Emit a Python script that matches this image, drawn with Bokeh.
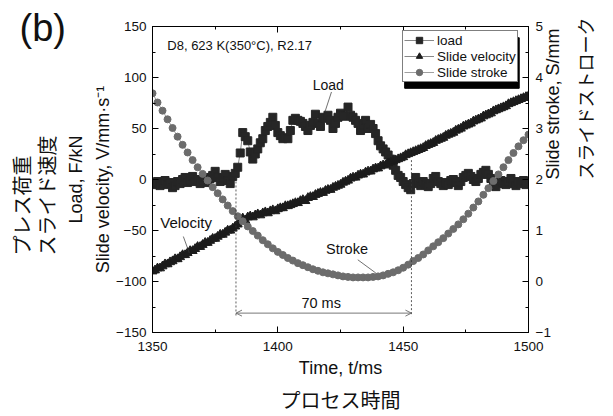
import math
from bokeh.plotting import figure
from bokeh.models import (Range1d, LinearAxis, FixedTicker, Label, Legend,
                          LegendItem, Arrow, OpenHead, Title)
from bokeh.embed import file_html
from bokeh.resources import INLINE

# ---------------- data ----------------
time_ms = list(range(1350, 1501))          # 1 ms sampling
load_kN = [
    -3, -5, -2, -6, -4, -1, -5, -3, -8, -6,
    -2, -4, 0, 2, -3, -1, 3, -2, 0, -4,
    -1, 2, -3, 1, 4, 8, 2, -2, 1, 5,
    -1, -4, 3, 6, 12, 26, 46, 42, 38, 27,
    20, 25, 30, 36, 40, 48, 52, 56, 61, 53,
    46, 43, 40, 41, 40, 48, 58, 60, 58, 57,
    55, 52, 48, 53, 56, 64, 55, 52, 61, 60,
    63, 58, 50, 55, 61, 65, 63, 62, 71, 63,
    61, 58, 55, 48, 53, 58, 50, 54, 50, 45,
    38, 33, 30, 27, 24, 20, 14, 9, 4, 2,
    -2, -5, -8, -10, -4, 2, -3, -6, -2, -5,
    -7, -4, 1, 3, -2, -4, -6, -3, -5, -1,
    0, -3, -6, -2, 2, 4, 6, 3, 0, -2,
    1, 5, 7, 9, 5, 1, -3, -7, -4, -1,
    -3, -5, -2, 1, -4, -6, -2, -4, -1, -5,
    -3]
velocity_mm_s = [
    -90, -89, -87, -87, -85, -83, -83, -81, -80, -78,
    -78, -76, -74, -74, -72, -70, -70, -68, -66, -66,
    -64, -62, -62, -60, -58, -58, -56, -54, -54, -52,
    -50, -50, -48, -46, -44, -40, -38, -40, -37, -36,
    -37, -35, -34, -35, -33, -32, -33, -31, -30, -31,
    -29, -28, -28, -26, -26, -25, -24, -23, -23, -21,
    -20, -21, -18, -17, -17, -15, -14, -13, -13, -11,
    -10, -10, -8, -7, -6, -5, -3, -2, -1, 1,
    2, 2, 4, 5, 5, 7, 8, 8, 10, 11,
    11, 13, 14, 14, 16, 17, 18, 19, 20, 21,
    22, 24, 25, 26, 27, 28, 29, 30, 31, 33,
    34, 35, 36, 38, 39, 40, 41, 43, 44, 45,
    46, 48, 49, 50, 52, 53, 54, 55, 57, 58,
    59, 60, 62, 63, 64, 65, 67, 68, 69, 70,
    71, 72, 74, 75, 76, 77, 78, 79, 80, 81,
    82]
stroke_time_ms = list(range(1350, 1501, 2))   # 2 ms sampling
stroke_mm = [
    3.69, 3.51, 3.35, 3.18, 3.01, 2.84, 2.68, 2.53, 2.38, 2.24,
    2.11, 1.98, 1.85, 1.73, 1.61, 1.49, 1.38, 1.28, 1.18, 1.08,
    0.99, 0.90, 0.81, 0.73, 0.65, 0.58, 0.52, 0.46, 0.41, 0.36,
    0.32, 0.28, 0.24, 0.21, 0.18, 0.16, 0.14, 0.12, 0.10, 0.09,
    0.08, 0.08, 0.08, 0.08, 0.09, 0.10, 0.12, 0.15, 0.18, 0.22,
    0.27, 0.33, 0.40, 0.46, 0.53, 0.61, 0.69, 0.77, 0.85, 0.94,
    1.03, 1.12, 1.22, 1.33, 1.45, 1.57, 1.70, 1.83, 1.97, 2.10,
    2.24, 2.38, 2.52, 2.65, 2.77,
    2.88]

x_ticks = [1350, 1400, 1450, 1500]
x_minor = [1375, 1425, 1475]
left_ticks = [-150, -100, -50, 0, 50, 100, 150]
left_minor = [-125, -75, -25, 25, 75, 125]
right_ticks = [-1, 0, 1, 2, 3, 4, 5]
right_minor = [-0.5, 0.5, 1.5, 2.5, 3.5, 4.5]

press_window_ms = [1383.3, 1453.3]
series_names = ["load", "Slide velocity", "Slide stroke"]

FONT = "Liberation Sans"
JFONT = "Noto Sans CJK JP"
INK = "#111111"

# ---------------- figure ----------------
p = figure(width=613, height=416, x_range=Range1d(1350, 1500),
           y_range=Range1d(-150, 150), output_backend="svg",
           toolbar_location=None, min_border_left=152, min_border_right=80,
           min_border_top=26, min_border_bottom=83)
p.extra_y_ranges = {"stroke": Range1d(-1, 5)}
p.xgrid.visible = False
p.ygrid.visible = False
p.outline_line_color = "black"
p.outline_line_width = 1
p.background_fill_color = "white"
p.border_fill_color = "white"


def style_axis(ax, standoff):
    ax.axis_line_color = "black"
    ax.axis_line_width = 1
    ax.major_tick_line_color = "black"
    ax.minor_tick_line_color = "black"
    ax.major_tick_in = 6
    ax.major_tick_out = 0
    ax.minor_tick_in = 3
    ax.minor_tick_out = 0
    ax.major_label_text_font = FONT
    ax.major_label_text_font_size = "13.5px"
    ax.major_label_text_color = INK
    ax.major_label_standoff = standoff
    ax.axis_label_text_font = FONT
    ax.axis_label_text_font_size = "18px"
    ax.axis_label_text_font_style = "normal"
    ax.axis_label_text_color = INK


def label_axis(text, y_range_name=None, size="20px", standoff=0):
    """An axis without ticks that only carries a (Japanese) title."""
    kw = dict(ticker=FixedTicker(ticks=[]), axis_line_color=None,
              major_tick_line_color=None, minor_tick_line_color=None,
              major_tick_in=0, major_tick_out=0, minor_tick_in=0,
              minor_tick_out=0, major_label_standoff=0,
              major_label_text_font_size="0px", axis_label=text,
              axis_label_standoff=standoff, axis_label_text_font=JFONT,
              axis_label_text_font_size=size,
              axis_label_text_font_style="normal",
              axis_label_text_color=INK)
    if y_range_name:
        kw["y_range_name"] = y_range_name
    return LinearAxis(**kw)


def side_title(text, place, size, font=FONT, align="center", offset=0,
               standoff=0, valign="bottom"):
    p.add_layout(Title(text=text, align=align, offset=offset, standoff=standoff,
                       vertical_align=valign, text_font=font,
                       text_font_size=size, text_font_style="normal",
                       text_color=INK), place)


# "(b)" panel tag, placed in the top border, left of the frame
side_title("(b)", "above", "38px", align="left", offset=-133, standoff=-44)

# bottom
xa = p.xaxis[0]
xa.ticker = FixedTicker(ticks=x_ticks, minor_ticks=x_minor)
style_axis(xa, 9)
xa.axis_label = "Time, t/ms"
xa.axis_label_standoff = 4
p.add_layout(label_axis("プロセス時間", size="20px", standoff=4), "below")

# left
ya = p.yaxis[0]
ya.ticker = FixedTicker(ticks=left_ticks, minor_ticks=left_minor)
ya.major_label_overrides = {t: str(t).replace("-", "\u2212") for t in left_ticks}
style_axis(ya, 6)
ya.axis_label = "Slide velocity, V/mm\u00b7s\u207b\u00b9"
ya.axis_label_standoff = 0
side_title("Load, F/kN", "left", "18px", standoff=9)
side_title("スライド速度", "left", "20px", font=JFONT, align="left", offset=77,
           standoff=-3)
side_title("プレス荷重", "left", "20px", font=JFONT, align="left", offset=77,
           standoff=-9)

# top
top = LinearAxis(ticker=FixedTicker(ticks=x_ticks, minor_ticks=x_minor),
                 major_label_overrides={t: "" for t in x_ticks})
style_axis(top, 0)
p.add_layout(top, "above")

# right
right = LinearAxis(y_range_name="stroke",
                   ticker=FixedTicker(ticks=right_ticks, minor_ticks=right_minor),
                   major_label_overrides={t: str(t).replace("-", "\u2212") for t in right_ticks})
style_axis(right, 7)
right.axis_label = "Slide stroke, S/mm"
right.axis_label_standoff = -1
p.add_layout(right, "right")
jp_right = label_axis("スライドストローク", y_range_name="stroke", size="18px",
                      standoff=9)
p.add_layout(jp_right, "right")
if "axis_label_orientation" in right.properties():
    right.axis_label_orientation = math.pi / 2
    jp_right.axis_label_orientation = math.pi / 2

# legend shadow (behind legend box)
p.quad(left=[1450.6], right=[1496.3], top=[139.0], bottom=[89.4],
       fill_color="black", line_color="black")

# ---------------- series ----------------
l_line = p.line(time_ms, load_kN, line_color="#555555", line_width=0.7)
l_pts = p.scatter(time_ms, load_kN, marker="square", size=8,
                  fill_color="#262626", line_color="#262626")
v_line = p.line(time_ms, velocity_mm_s, line_color="#555555", line_width=0.7)
v_pts = p.scatter(time_ms, velocity_mm_s, marker="triangle", size=9,
                  fill_color="#1c1c1c", line_color="#1c1c1c")
s_line = p.line(stroke_time_ms, stroke_mm, y_range_name="stroke",
                line_color="#777777", line_width=0.7)
s_pts = p.scatter(stroke_time_ms, stroke_mm, y_range_name="stroke",
                  marker="circle", size=7, fill_color="#6c6c6c",
                  line_color="#6c6c6c")

# ---------------- annotations ----------------
p.segment(x0=press_window_ms, y0=[2, 19], x1=press_window_ms, y1=[-134, -134],
          line_color="#333333", line_width=0.8, line_dash="2 2")
p.add_layout(Arrow(start=OpenHead(size=6, line_width=0.8, line_color="#555555"),
                   end=OpenHead(size=6, line_width=0.8, line_color="#555555"),
                   x_start=press_window_ms[0], y_start=-131,
                   x_end=press_window_ms[1], y_end=-131,
                   line_color="#555555", line_width=0.8))
# leader lines: Load, Velocity, Stroke
p.segment(x0=[1421.4, 1362.3, 1431.9], y0=[85.8, -55.9, -78.7],
          x1=[1418.8, 1364.7, 1439.1], y1=[66.3, -72.1, -91.7],
          line_color="#333333", line_width=0.7)


def add_label(x, y, text, size, align="left"):
    p.add_layout(Label(x=x, y=y, text=text, text_font=FONT,
                       text_font_size=size, text_color=INK, text_align=align,
                       text_baseline="middle"))


add_label(1355.9, 131.5, "D8, 623 K(350\u00b0C), R2.17", "13px")
add_label(1420.1, 92.5, "Load", "14px", align="center")
add_label(1353.1, -42.5, "Velocity", "15px")
add_label(1427.6, -68.0, "Stroke", "14.5px", align="center")
add_label(1417.3, -121.5, "70 ms", "14.5px", align="center")

# ---------------- legend ----------------
legend = Legend(items=[
    LegendItem(label=series_names[0], renderers=[l_line, l_pts]),
    LegendItem(label=series_names[1], renderers=[v_line, v_pts]),
    LegendItem(label=series_names[2], renderers=[s_line, s_pts]),
], location=(250, 250), margin=0, padding=1, spacing=0, glyph_width=30,
    glyph_height=16, label_height=16, label_standoff=3,
    label_text_font=FONT, label_text_font_size="13.5px",
    label_text_color=INK, border_line_color="black", border_line_width=1,
    background_fill_color="white", background_fill_alpha=1.0)
p.add_layout(legend)

open("out.html", "w").write(file_html(p, INLINE))
